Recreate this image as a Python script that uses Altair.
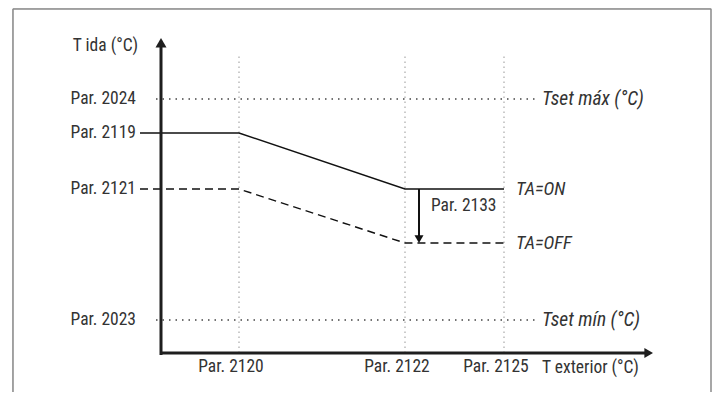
import altair as alt
import pandas as pd

# ---- schematic values (units along the two temperature axes) ----
# T exterior axis parameters
x_par_labels = ["Par. 2120", "Par. 2122", "Par. 2125"]
x_par_values = [78, 244, 343]

# T ida axis parameters
y_par_labels = ["Par. 2024", "Par. 2119", "Par. 2121", "Par. 2023"]
y_par_values = [254, 220, 164, 33]

# heating curves
curve_x = [-21, 78, 244, 343]
curve_on_y = [220, 220, 164, 164]     # TA=ON
curve_off_y = [164, 164, 110, 110]    # TA=OFF

# set-point limits (dotted)
limit_labels = ["Tset máx (°C)", "Tset mín (°C)"]
limit_values = [254, 33]
limit_x_range = [-5, 376]

curve_labels = ["TA=ON", "TA=OFF"]
curve_label_y = [164, 110]

# axes extents
x_axis_end = 492
y_axis_end = 315
grid_top = 300

# Par. 2133 offset arrow
offset_x = 258
offset_label = "Par. 2133"

# frame
frame_x = [-148, 550]
frame_top = 344

XDOM = [-149, 551]
YDOM = [-39, 345]

FONT = "Roboto Condensed"
TXT = "#333333"
FS = 17.5
FSI = 19.5
FW = 400

xs = alt.Scale(domain=XDOM, nice=False, zero=False)
ys = alt.Scale(domain=YDOM, nice=False, zero=False)


def X(f):
    return alt.X(f, type="quantitative", scale=xs, axis=None)


def Y(f):
    return alt.Y(f, type="quantitative", scale=ys, axis=None)


# frame
frame_df = pd.DataFrame({"x": frame_x, "y": [YDOM[0], YDOM[0]], "y2": [frame_top, frame_top]})
frame_v = alt.Chart(frame_df).mark_rule(color="#8a8a8a", strokeWidth=1.5).encode(
    x=X("x"), y=Y("y"), y2="y2")
frame_h = alt.Chart(pd.DataFrame({"x": [frame_x[0]], "x2": [frame_x[1]], "y": [frame_top]})).mark_rule(
    color="#8a8a8a", strokeWidth=1.5).encode(x=X("x"), x2="x2", y=Y("y"))

# vertical dotted guides
grid_df = pd.DataFrame({"x": x_par_values, "y": [0] * 3, "y2": [grid_top] * 3})
grid = alt.Chart(grid_df).mark_rule(color="#b0b0b0", strokeWidth=1.3, strokeDash=[1.5, 3.5]).encode(
    x=X("x"), y=Y("y"), y2="y2")

# horizontal dotted limits
lim_df = pd.DataFrame({"y": limit_values, "x": [limit_x_range[0]] * 2, "x2": [limit_x_range[1]] * 2,
                       "label": limit_labels})
lim = alt.Chart(lim_df).mark_rule(color="#444444", strokeWidth=1.3, strokeDash=[1.5, 5]).encode(
    x=X("x"), x2="x2", y=Y("y"))
lim_text = alt.Chart(lim_df).mark_text(font=FONT, fontSize=FSI, fontWeight=FW, fontStyle="italic", align="left",
                                       baseline="middle", color=TXT, dx=5).encode(
    x=X("x2"), y=Y("y"), text="label")

# curves
on_df = pd.DataFrame({"x": curve_x, "y": curve_on_y, "o": range(4)})
off_df = pd.DataFrame({"x": curve_x, "y": curve_off_y, "o": range(4)})
on_line = alt.Chart(on_df).mark_line(color="#111111", strokeWidth=1.4).encode(x=X("x"), y=Y("y"), order="o")
off_line = alt.Chart(off_df).mark_line(color="#111111", strokeWidth=1.4, strokeDash=[8, 5]).encode(
    x=X("x"), y=Y("y"), order="o")

cl_df = pd.DataFrame({"x": [curve_x[-1]] * 2, "y": curve_label_y, "label": curve_labels})
cl_text = alt.Chart(cl_df).mark_text(font=FONT, fontSize=FSI - 1, fontWeight=FW, fontStyle="italic", align="left",
                                     baseline="middle", color=TXT, dx=12).encode(
    x=X("x"), y=Y("y"), text="label")

# axes
yaxis = alt.Chart(pd.DataFrame({"x": [0], "y": [-2], "y2": [y_axis_end - 6]})).mark_rule(
    color="#1e1e1e", strokeWidth=3).encode(x=X("x"), y=Y("y"), y2="y2")
xaxis = alt.Chart(pd.DataFrame({"y": [0], "x": [-1], "x2": [x_axis_end - 6]})).mark_rule(
    color="#1e1e1e", strokeWidth=3).encode(x=X("x"), x2="x2", y=Y("y"))
yhead = alt.Chart(pd.DataFrame({"x": [0], "y": [y_axis_end - 4.8]})).mark_point(
    shape="triangle-up", size=121, filled=True, color="#1e1e1e", opacity=1).encode(x=X("x"), y=Y("y"))
xhead = alt.Chart(pd.DataFrame({"x": [x_axis_end - 4.3], "y": [0]})).mark_point(
    shape="triangle-right", size=100, filled=True, color="#1e1e1e", opacity=1).encode(x=X("x"), y=Y("y"))

# offset arrow Par. 2133
off_arrow = alt.Chart(pd.DataFrame({"x": [offset_x], "y": [curve_on_y[-1]], "y2": [curve_off_y[-1] + 6]})).mark_rule(
    color="#111111", strokeWidth=2).encode(x=X("x"), y=Y("y"), y2="y2")
off_head = alt.Chart(pd.DataFrame({"x": [offset_x], "y": [curve_off_y[-1] + 3.9]})).mark_point(
    shape="triangle-down", size=81, filled=True, color="#111111", opacity=1).encode(x=X("x"), y=Y("y"))
off_text = alt.Chart(pd.DataFrame({"x": [offset_x], "y": [(curve_on_y[-1] + curve_off_y[-1]) / 2 + 10],
                                   "label": [offset_label]})).mark_text(
    font=FONT, fontSize=FS, fontWeight=FW, align="left", baseline="middle", color=TXT, dx=12).encode(
    x=X("x"), y=Y("y"), text="label")

# axis labels
ylab_df = pd.DataFrame({"y": y_par_values, "label": y_par_labels, "x": [-25] * 4})
ylab = alt.Chart(ylab_df).mark_text(font=FONT, fontSize=FS, fontWeight=FW, align="right", baseline="middle",
                                    color=TXT).encode(x=X("x"), y=Y("y"), text="label")
xlab_df = pd.DataFrame({"x": x_par_values, "label": x_par_labels, "y": [-14] * 3})
xlab = alt.Chart(xlab_df).mark_text(font=FONT, fontSize=FS, fontWeight=FW, align="center", baseline="middle",
                                    color=TXT, dx=-8).encode(x=X("x"), y=Y("y"), text="label")

titles_df = pd.DataFrame({"label": ["T ida (°C)", "T exterior (°C)"], "x": [-23, 381], "y": [307, -15]})
ytitle = alt.Chart(titles_df.iloc[[0]]).mark_text(font=FONT, fontSize=FS, fontWeight=FW, align="right",
                                                  baseline="middle", color=TXT).encode(
    x=X("x"), y=Y("y"), text="label")
xtitle = alt.Chart(titles_df.iloc[[1]]).mark_text(font=FONT, fontSize=FS, fontWeight=FW, align="left",
                                                  baseline="middle", color=TXT).encode(
    x=X("x"), y=Y("y"), text="label")

chart = alt.layer(
    frame_v, frame_h, grid, lim, on_line, off_line, yaxis, xaxis, yhead, xhead,
    off_arrow, off_head, lim_text, cl_text, off_text, ylab, xlab, ytitle, xtitle
).properties(
    width=700, height=384,
    autosize=alt.AutoSizeParams(type="none"),
    padding={"left": 4, "top": 0, "right": 0, "bottom": 0},
).configure_view(stroke=None).configure(background="white")

chart.save("out.html", embed_options={"renderer": "svg", "actions": False})
